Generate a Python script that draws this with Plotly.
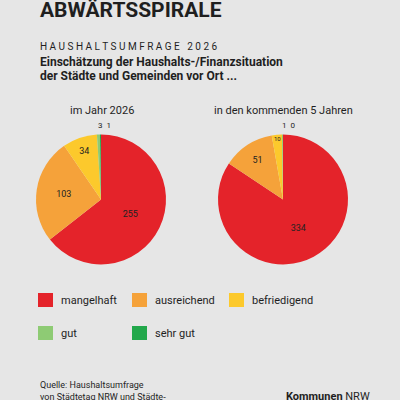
import plotly.graph_objects as go

categories = ["mangelhaft", "ausreichend", "befriedigend", "gut", "sehr gut"]
colors = ["#e4232a", "#f5a23a", "#fcc92c", "#8ecb74", "#22a84b"]
values_2026 = [255, 103, 34, 3, 1]
values_5y = [334, 51, 10, 1, 0]


def inside_text(vals):
    return [str(v) if v > 5 else "" for v in vals]


def small_text(vals):
    return "  ".join(str(v) for v in vals if v <= 5)


fig = go.Figure()
for vals, dx in [(values_2026, [0.09, 0.415]), (values_5y, [0.545, 0.87])]:
    fig.add_trace(go.Pie(labels=categories, values=vals, sort=False, direction="clockwise",
                         marker=dict(colors=colors), domain=dict(x=dx, y=[0.335, 0.668]),
                         text=inside_text(vals), textinfo="text", textposition="inside",
                         textfont=dict(size=9, color="#222"), insidetextorientation="horizontal",
                         showlegend=False))

anns = [
    dict(text="<b>ABWÄRTSSPIRALE</b>", x=38, y=10, size=21),
    dict(text="H A U S H A L T S U M F R A G E   2 0 2 6", x=38, y=47, size=10),
    dict(text="<b>Einschätzung der Haushalts-/Finanzsituation</b>", x=38, y=62, size=12),
    dict(text="<b>der Städte und Gemeinden vor Ort ...</b>", x=38, y=76, size=12),
    dict(text="im Jahr 2026", x=68, y=110, size=11),
    dict(text="in den kommenden 5 Jahren", x=212, y=110, size=11),
    dict(text=small_text(values_2026), x=96, y=125, size=8),
    dict(text=small_text(values_5y), x=280, y=125, size=8),
    dict(text="Quelle: Haushaltsumfrage", x=38, y=385, size=9),
    dict(text="von Städtetag NRW und Städte-", x=38, y=397, size=9),
    dict(text="<b>Kommunen</b> NRW", x=284, y=396, size=11),
]
shapes = []
leg_x = [38, 132, 229, 38, 132]
leg_y = [300, 300, 300, 333, 333]
for name, col, lx, ly in zip(categories, colors, leg_x, leg_y):
    shapes.append(dict(type="rect", xref="paper", yref="paper", x0=lx / 400, x1=(lx + 15) / 400,
                       y0=1 - (ly - 7) / 400, y1=1 - (ly + 7) / 400, fillcolor=col, line=dict(width=0)))
    anns.append(dict(text=name, x=lx + 21, y=ly, size=11))

fig.update_layout(
    width=400, height=400, margin=dict(l=0, r=0, t=0, b=0),
    paper_bgcolor="#e6e6e6", plot_bgcolor="#e6e6e6",
    font=dict(family="Roboto", color="#222"),
    showlegend=False, shapes=shapes,
    annotations=[dict(text=a["text"], x=a["x"] / 400, y=1 - a["y"] / 400, xref="paper", yref="paper",
                      xanchor="left", yanchor="middle", showarrow=False,
                      font=dict(size=a["size"], color="#1f1f1f")) for a in anns],
)
fig.write_html("out.html", config={"displayModeBar": False},
               post_script="document.body.style.margin='0';document.body.style.overflow='hidden';")
